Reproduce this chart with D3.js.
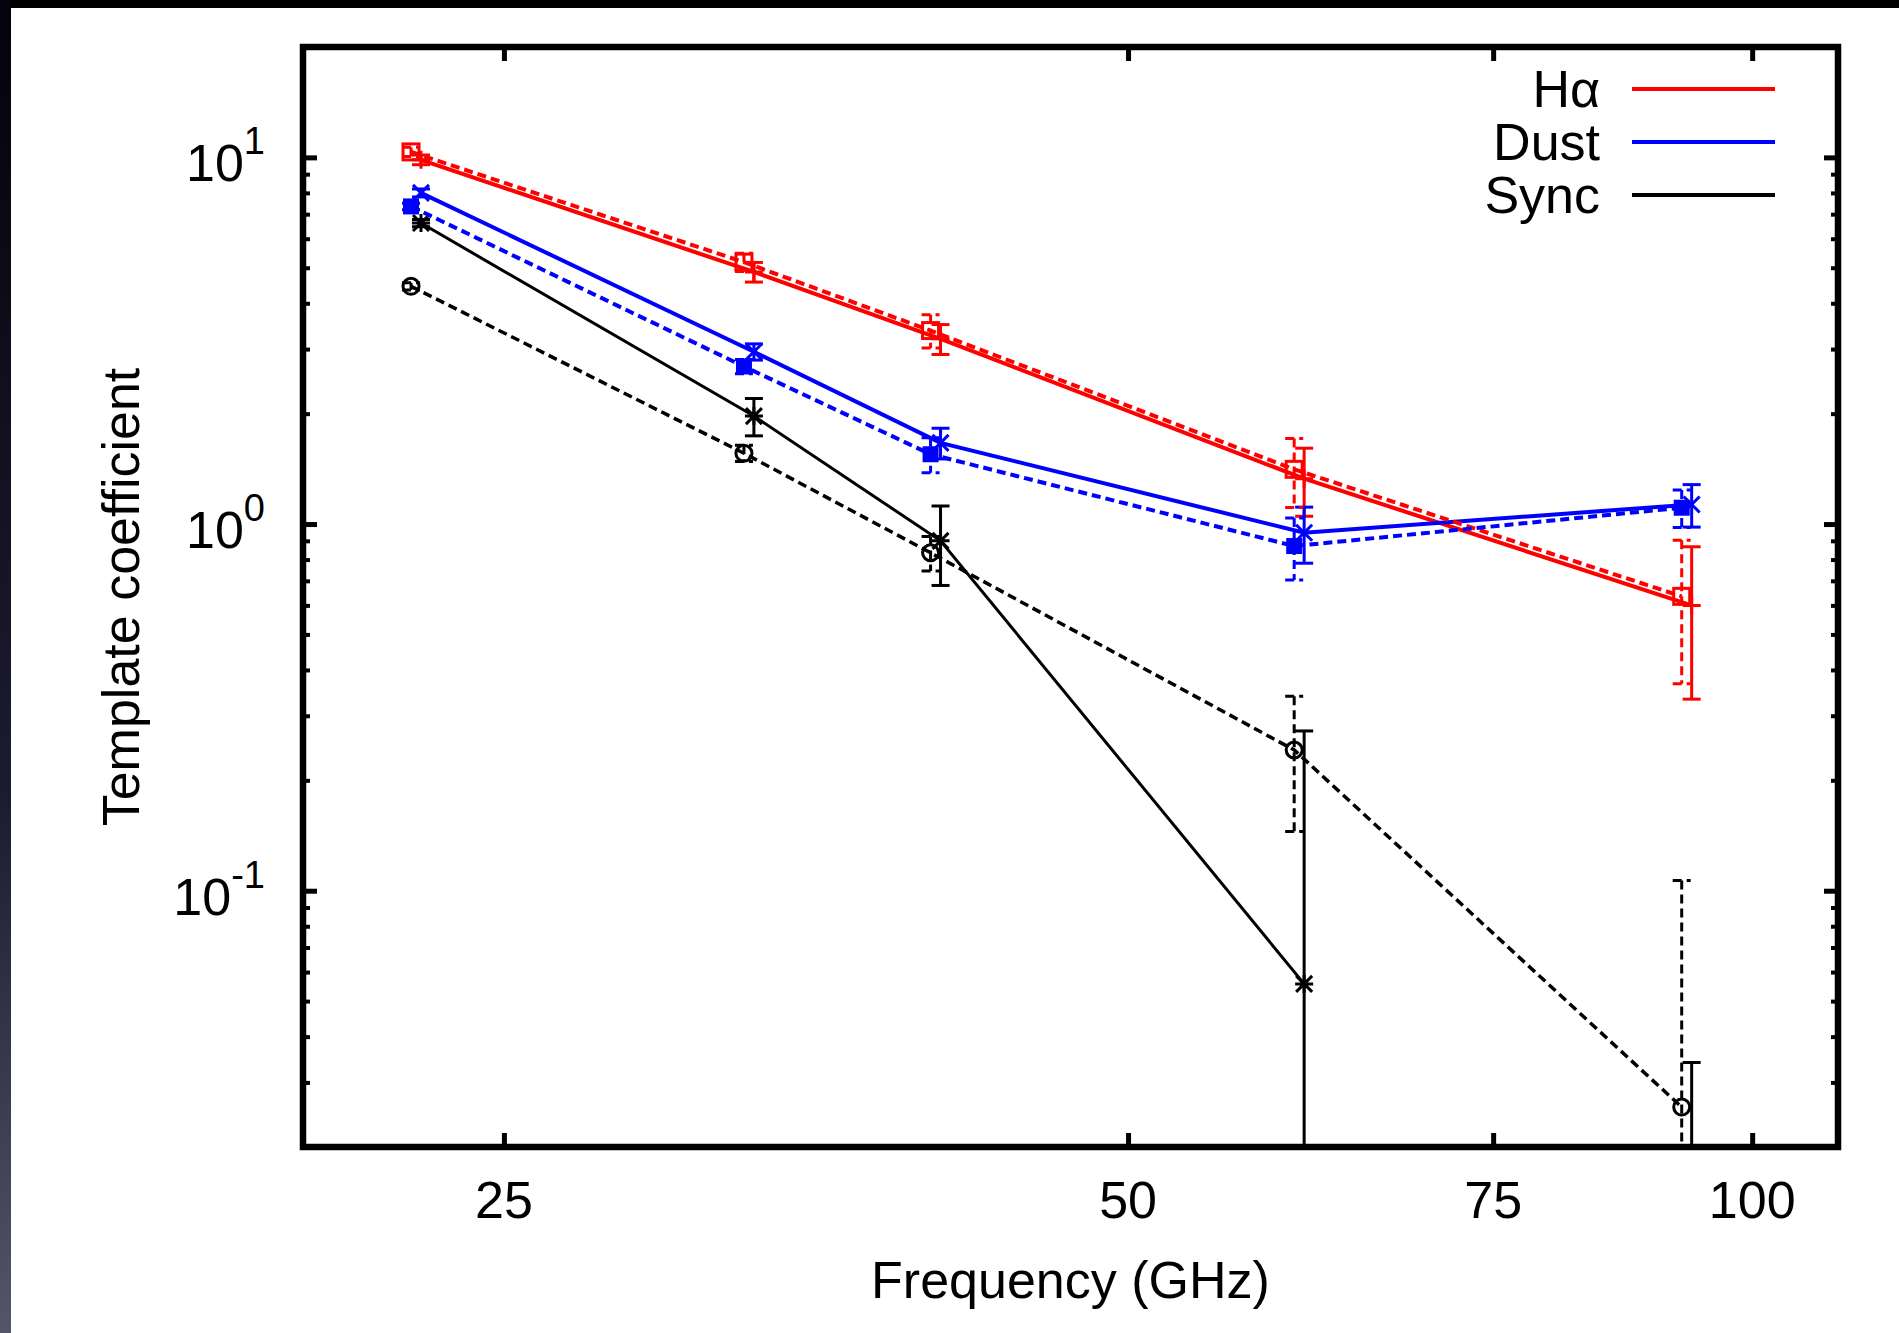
<!DOCTYPE html>
<html>
<head>
<meta charset="utf-8">
<script src="https://cdn.jsdelivr.net/npm/d3@7"></script>
<style>
  html, body { margin: 0; padding: 0; background: #fff; }
  svg { display: block; }
  text { font-family: "Liberation Sans", Arial, Helvetica, sans-serif; fill: #000; }
</style>
</head>
<body>
<svg id="chart" width="1899" height="1333"></svg>
<script>
// ---- data ----
var freqs = [22.8, 33.0, 40.6, 60.8, 93.5];
var dashShift = 0.989;   // second fit drawn a touch to the left of the first

var haSolid      = [9.85, 4.87, 3.20, 1.33, 0.60];
var haSolidErr   = [0.30, 0.30, 0.30, 0.28, 0.267];
var haDash       = [10.35, 5.18, 3.37, 1.41, 0.635];
var haDashErr    = [0.30, 0.30, 0.35, 0.30, 0.268];

var dustSolid    = [8.0, 2.95, 1.665, 0.947, 1.131];
var dustSolidErr = [0.20, 0.15, 0.16, 0.165, 0.15];
var dustDash     = [7.35, 2.69, 1.55, 0.871, 1.108];
var dustDashErr  = [0.15, 0.12, 0.17, 0.167, 0.13];

var syncSolid    = [6.62, 1.97, 0.90, 0.0557, -0.01];
var syncSolidErr = [0.15, 0.23, 0.22, 0.217, 0.044];
var syncDash     = [4.45, 1.56, 0.835, 0.242, 0.0257];
var syncDashErr  = [0.10, 0.08, 0.09, 0.097, 0.081];

var xTicks = [25, 50, 75, 100];
var yMajor = [0.1, 1, 10];
var yExp   = ["-1", "0", "1"];
var legendNames = ["H\u03b1", "Dust", "Sync"];

// ---- layout ----
var W = 1899, H = 1333;
var pL = 303, pR = 1838, pT = 47, pB = 1147;

var svg = d3.select("#chart");

// dark photo edge round the white page
var defs = svg.append("defs");
var grad = defs.append("linearGradient").attr("id", "edge")
    .attr("x1", 0).attr("y1", 0).attr("x2", 0).attr("y2", 1);
grad.append("stop").attr("offset", "0%").attr("stop-color", "#03030c");
grad.append("stop").attr("offset", "60%").attr("stop-color", "#1c1c30");
grad.append("stop").attr("offset", "100%").attr("stop-color", "#55556a");
svg.append("rect").attr("width", W).attr("height", H).attr("fill", "#fff");
svg.append("rect").attr("width", W).attr("height", 8).attr("fill", "#000");
svg.append("rect").attr("width", 11).attr("height", H).attr("fill", "url(#edge)");

defs.append("clipPath").attr("id", "plotclip")
    .append("rect").attr("x", pL).attr("y", pT)
    .attr("width", pR - pL).attr("height", pB - pT);

var x = d3.scaleLog().domain([20, 110]).range([pL, pR]);
var y = d3.scaleLog().domain([0.02, 20]).range([pB, pT]);

var yMinor = [];
[0.01, 0.1, 1].forEach(function (d) {
    for (var k = 2; k <= 9; k++) {
        var v = d * k;
        if (v >= 0.02 && v <= 20) yMinor.push(v);
    }
});

// ---- ticks (inward, mirrored) ----
function tickAxis(axis, tx, ty, len, width) {
    var g = svg.append("g").attr("transform", "translate(" + tx + "," + ty + ")")
        .call(axis.tickSize(len).tickFormat(""));
    g.select(".domain").remove();
    g.selectAll(".tick line").attr("stroke", "#000").attr("stroke-width", width);
    return g;
}
tickAxis(d3.axisBottom(x).tickValues(xTicks), 0, pB, -14, 5);
tickAxis(d3.axisTop(x).tickValues(xTicks), 0, pT, -14, 5);
tickAxis(d3.axisLeft(y).tickValues(yMajor), pL, 0, -14, 5);
tickAxis(d3.axisRight(y).tickValues(yMajor), pR, 0, -14, 5);
tickAxis(d3.axisLeft(y).tickValues(yMinor), pL, 0, -7, 4);
tickAxis(d3.axisRight(y).tickValues(yMinor), pR, 0, -7, 4);

// frame
svg.append("rect").attr("x", pL).attr("y", pT)
    .attr("width", pR - pL).attr("height", pB - pT)
    .attr("fill", "none").attr("stroke", "#000").attr("stroke-width", 6.5);

// tick labels
svg.append("g").selectAll("text").data(xTicks).enter().append("text")
    .attr("x", function (d) { return x(d); })
    .attr("y", 1218)
    .attr("text-anchor", "middle")
    .attr("font-size", 52)
    .text(function (d) { return d; });

var yl = svg.append("g").selectAll("text").data(yMajor).enter().append("text")
    .attr("x", 265)
    .attr("y", function (d) { return y(d) + 24; })
    .attr("text-anchor", "end")
    .attr("font-size", 52);
yl.append("tspan").text("10");
yl.append("tspan").attr("dy", -27).attr("font-size", 38)
    .text(function (d, i) { return yExp[i]; });

// axis titles
svg.append("text").attr("x", (pL + pR) / 2).attr("y", 1298)
    .attr("text-anchor", "middle").attr("font-size", 52)
    .text("Frequency (GHz)");
svg.append("text")
    .attr("transform", "translate(139," + ((pT + pB) / 2) + ") rotate(-90)")
    .attr("text-anchor", "middle").attr("font-size", 52)
    .text("Template coefficient");

// ---- series ----
var series = [
    {vals: haSolid,   err: haSolidErr,   color: "#ff0000", dash: null, pt: "plus",   shift: 1, lw: 4},
    {vals: dustSolid, err: dustSolidErr, color: "#0000ff", dash: null, pt: "cross",  shift: 1, lw: 4},
    {vals: syncSolid, err: syncSolidErr, color: "#000000", dash: null, pt: "star",   shift: 1, lw: 3},
    {vals: haDash,    err: haDashErr,    color: "#ff0000", dash: "9,5", pt: "square", shift: dashShift, lw: 4},
    {vals: dustDash,  err: dustDashErr,  color: "#0000ff", dash: "9,5", pt: "fsquare", shift: dashShift, lw: 4},
    {vals: syncDash,  err: syncDashErr,  color: "#000000", dash: "9,5", pt: "circle", shift: dashShift, lw: 3.5}
];

var plot = svg.append("g").attr("clip-path", "url(#plotclip)");
var ymin = y.domain()[0] * 0.5;

series.forEach(function (s) {
    var pts = freqs.map(function (f, i) {
        return {f: f * s.shift, v: s.vals[i], lo: s.vals[i] - s.err[i], hi: s.vals[i] + s.err[i]};
    });
    var g = plot.append("g");

    var line = d3.line()
        .defined(function (d) { return d.v > 0; })
        .x(function (d) { return x(d.f); })
        .y(function (d) { return y(d.v); });
    g.append("path").datum(pts).attr("d", line)
        .attr("fill", "none").attr("stroke", s.color)
        .attr("stroke-width", s.lw)
        .attr("stroke-dasharray", s.dash);

    // error bars
    var eb = g.selectAll(".eb").data(pts.filter(function (d) { return d.hi > 0; }))
        .enter().append("g")
        .attr("stroke", s.color).attr("stroke-width", 3)
        .attr("stroke-dasharray", s.dash);
    eb.append("line")
        .attr("x1", function (d) { return x(d.f); }).attr("x2", function (d) { return x(d.f); })
        .attr("y1", function (d) { return y(d.hi); })
        .attr("y2", function (d) { return y(Math.max(d.lo, ymin)); });
    eb.append("line")
        .attr("x1", function (d) { return x(d.f) - 9; }).attr("x2", function (d) { return x(d.f) + 9; })
        .attr("y1", function (d) { return y(d.hi); }).attr("y2", function (d) { return y(d.hi); });
    eb.filter(function (d) { return d.lo > 0; }).append("line")
        .attr("x1", function (d) { return x(d.f) - 9; }).attr("x2", function (d) { return x(d.f) + 9; })
        .attr("y1", function (d) { return y(d.lo); }).attr("y2", function (d) { return y(d.lo); });

    // point markers
    var m = g.selectAll(".pt").data(pts.filter(function (d) { return d.v > 0; }))
        .enter().append("g")
        .attr("transform", function (d) { return "translate(" + x(d.f) + "," + y(d.v) + ")"; });
    var r = 8;
    if (s.pt === "square") {
        m.append("rect").attr("x", -r).attr("y", -r).attr("width", 2 * r).attr("height", 2 * r)
            .attr("fill", "none").attr("stroke", s.color).attr("stroke-width", 3);
    } else if (s.pt === "fsquare") {
        m.append("rect").attr("x", -r).attr("y", -r).attr("width", 2 * r).attr("height", 2 * r)
            .attr("fill", s.color);
    } else if (s.pt === "circle") {
        m.append("circle").attr("r", r).attr("fill", "none")
            .attr("stroke", s.color).attr("stroke-width", 3);
    } else {
        var p = "";
        if (s.pt === "plus" || s.pt === "star") p += "M" + (-r - 1) + ",0H" + (r + 1) + "M0," + (-r - 1) + "V" + (r + 1);
        if (s.pt === "cross" || s.pt === "star") p += "M" + (-r) + "," + (-r) + "L" + r + "," + r + "M" + (-r) + "," + r + "L" + r + "," + (-r);
        m.append("path").attr("d", p).attr("stroke", s.color).attr("stroke-width", 3).attr("fill", "none");
    }
});

// ---- legend ----
var legendColors = ["#ff0000", "#0000ff", "#000000"];
var lg = svg.append("g").selectAll("g").data(legendNames).enter().append("g")
    .attr("transform", function (d, i) { return "translate(0," + (89 + i * 53) + ")"; });
lg.append("text").attr("x", 1600).attr("y", 18).attr("text-anchor", "end")
    .attr("font-size", 52).text(function (d) { return d; });
lg.append("line").attr("x1", 1632).attr("x2", 1775)
    .attr("stroke", function (d, i) { return legendColors[i]; })
    .attr("stroke-width", 4);
</script>
</body>
</html>
